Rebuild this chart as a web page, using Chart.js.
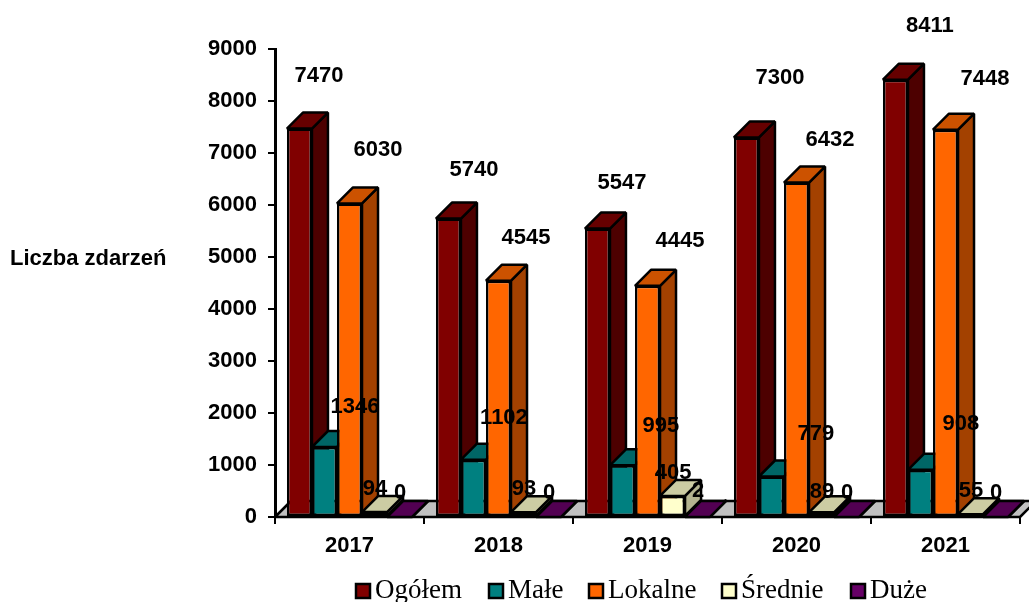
<!DOCTYPE html>
<html lang="pl">
<head>
<meta charset="utf-8">
<title>Liczba zdarzeń</title>
<script src="https://cdn.jsdelivr.net/npm/chart.js@4"></script>
<style>
    html, body { margin: 0; padding: 0; background: #fff; overflow: hidden; }
    canvas { display: block; }
</style>
</head>
<body>
<canvas id="chart" width="1029" height="602"></canvas>
<script>
const years = ['2017', '2018', '2019', '2020', '2021'];
const ogolem = [7470, 5740, 5547, 7300, 8411];
const male = [1346, 1102, 995, 779, 908];
const lokalne = [6030, 4545, 4445, 6432, 7448];
const srednie = [94, 93, 405, 89, 55];
const duze = [0, 0, 2, 0, 0];

const seriesNames = ['Ogółem', 'Małe', 'Lokalne', 'Średnie', 'Duże'];
const seriesValues = [ogolem, male, lokalne, srednie, duze];
const frontColors = ['#800000', '#008080', '#ff6600', '#ffffcc', '#660066'];
const topColors = ['#660000', '#006666', '#cc5200', '#cccca3', '#520052'];
const sideColors = ['#4d0000', '#004d4d', '#a34100', '#b3b38f', '#3d003d'];

// hand placed value labels, px from the top centre of the bar's front
const labelNudge = [
    [[19.5, -52.6], [25.5, -48.5], [24.5, -45.6], [33.5, -59.4], [34.5, -53.6]],
    [[30.5, -40], [30.5, -41.7], [38.5, -39.3], [44.5, -42.5], [40.5, -45.8]],
    [[28.5, -53.4], [27.5, -42.7], [32.5, -44.9], [33.5, -42.5], [39.5, -50.7]],
    [[0.5, -23], [0.5, -23], [0.5, -23], [0.5, -20], [0.5, -23]],
    [[0.5, -24], [0.5, -24], [0.5, -26], [0.5, -24], [0.5, -24]]
];

// legend layout: left edge of each box
const legendBoxX = [355, 488, 588, 721, 850];

const DEPTH = 16;
const SANS = '"Liberation Sans", Arial, sans-serif';
const SERIF = '"Liberation Serif", "Times New Roman", serif';

function poly(ctx, pts, fill) {
    ctx.beginPath();
    pts.forEach((p, i) => i ? ctx.lineTo(p[0], p[1]) : ctx.moveTo(p[0], p[1]));
    ctx.closePath();
    ctx.fillStyle = fill;
    ctx.fill();
    ctx.lineWidth = 2.5;
    ctx.strokeStyle = '#000';
    ctx.lineJoin = 'bevel';
    ctx.stroke();
}

const box3d = {
    id: 'box3d',
    // grey floor, then every bar left to right so each front hides its neighbour's side
    beforeDatasetsDraw(chart) {
        const ctx = chart.ctx, a = chart.chartArea;
        ctx.save();
        poly(ctx, [
            [a.left, a.bottom],
            [a.left + DEPTH, a.bottom - DEPTH],
            [a.right + DEPTH, a.bottom - DEPTH],
            [a.right, a.bottom]
        ], '#c0c0c0');
        seriesValues.forEach((vals, s) => {
            chart.getDatasetMeta(s).data.forEach(el => {
                const p = el.getProps(['x', 'y', 'base', 'width'], true);
                const l = p.x - p.width / 2, r = p.x + p.width / 2;
                poly(ctx, [[r, p.base], [r + DEPTH, p.base - DEPTH], [r + DEPTH, p.y - DEPTH], [r, p.y]], sideColors[s]);
                poly(ctx, [[l, p.y], [l + DEPTH, p.y - DEPTH], [r + DEPTH, p.y - DEPTH], [r, p.y]], topColors[s]);
                el.draw(ctx);
            });
        });
        ctx.restore();
    },
    // already painted above
    beforeDatasetDraw() {
        return false;
    },
    afterDatasetsDraw(chart) {
        const ctx = chart.ctx;
        ctx.save();
        ctx.fillStyle = '#000';
        ctx.textAlign = 'center';
        ctx.textBaseline = 'middle';
        ctx.font = 'bold 22px ' + SANS;
        seriesValues.forEach((vals, s) => {
            const meta = chart.getDatasetMeta(s);
            vals.forEach((v, c) => {
                const el = meta.data[c];
                ctx.fillText(String(v), el.x + labelNudge[s][c][0], el.y + labelNudge[s][c][1]);
            });
        });

        // axis title sits horizontally left of the ticks
        ctx.textAlign = 'left';
        ctx.fillText('Liczba zdarzeń', 10, 259);

        // legend
        seriesNames.forEach((name, s) => {
            ctx.fillStyle = frontColors[s];
            ctx.strokeStyle = '#000';
            ctx.lineWidth = 2.5;
            ctx.fillRect(legendBoxX[s] + 1, 584, 14, 14);
            ctx.strokeRect(legendBoxX[s] + 1, 584, 14, 14);
            ctx.fillStyle = '#000';
            ctx.font = '27px ' + SERIF;
            ctx.fillText(name, legendBoxX[s] + 20, 591);
        });
        ctx.restore();
    }
};

new Chart(document.getElementById('chart').getContext('2d'), {
    type: 'bar',
    data: {
        labels: years,
        datasets: seriesNames.map((name, s) => ({
            label: name,
            data: seriesValues[s],
            backgroundColor: frontColors[s],
            borderColor: '#000',
            borderWidth: 2.5,
            borderSkipped: false,
            categoryPercentage: 0.84,
            barPercentage: 1
        }))
    },
    options: {
        responsive: false,
        animation: false,
        devicePixelRatio: 1,
        layout: { autoPadding: false, padding: { top: 49, right: 9, left: 0, bottom: 0 } },
        plugins: {
            legend: { display: false },
            title: { display: false },
            tooltip: { enabled: false }
        },
        scales: {
            x: {
                afterFit: s => { s.height = 85; },
                border: { color: '#000', width: 2 },
                grid: { drawOnChartArea: false, color: '#000', lineWidth: 2, tickLength: 7 },
                ticks: { color: '#000', padding: 9, maxRotation: 0, font: { family: SANS, size: 22, weight: 'bold' } }
            },
            y: {
                min: 0,
                max: 9000,
                afterFit: s => { s.width = 275; },
                border: { color: '#000', width: 3 },
                grid: { drawOnChartArea: false, color: '#000', lineWidth: 2, tickLength: 7 },
                ticks: { color: '#000', stepSize: 1000, padding: 11, callback: v => String(v), font: { family: SANS, size: 22, weight: 'bold' } }
            }
        }
    },
    plugins: [box3d]
});
</script>
</body>
</html>
